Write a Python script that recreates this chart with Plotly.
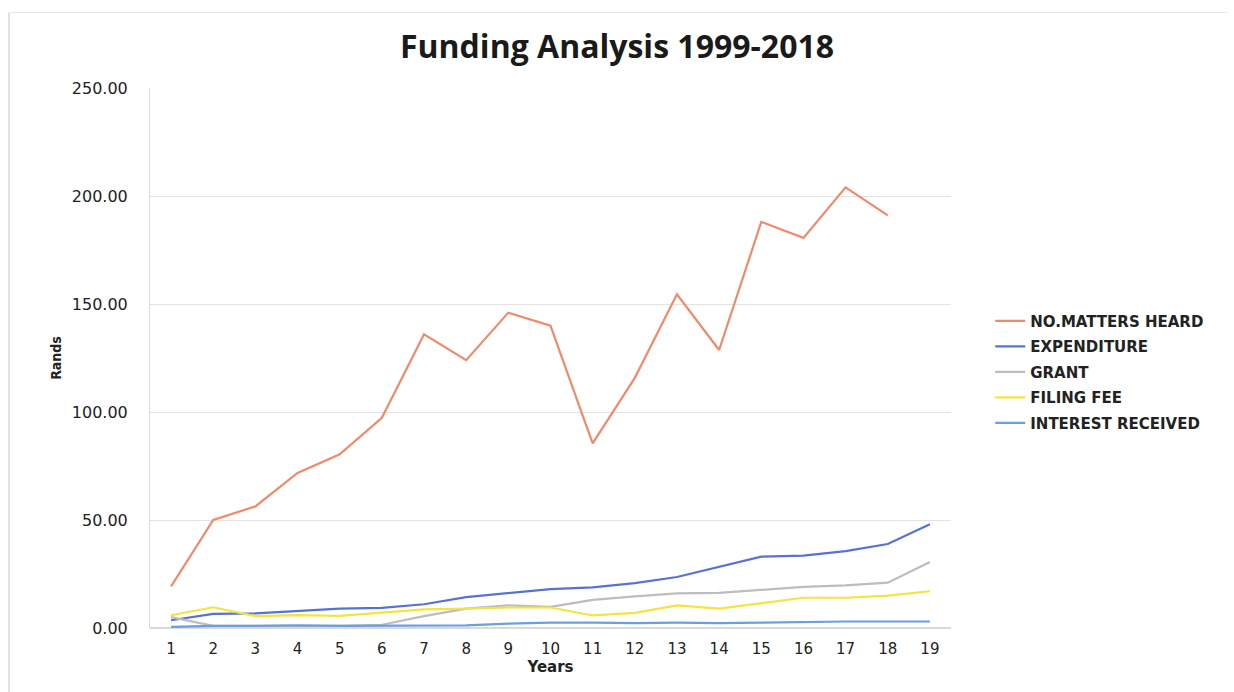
import plotly.graph_objects as go

years = [str(i) for i in range(1, 20)]
matters_heard = [19.3, 50.0, 56.3, 71.8, 80.4, 97.3, 136.0, 124.0, 146.0, 140.0,
                 85.5, 115.8, 154.5, 128.7, 188.0, 180.6, 204.0, 191.0, None]
expenditure = [3.6, 6.5, 6.8, 8.0, 9.0, 9.3, 11.0, 14.3, 16.0, 18.0,
               18.8, 20.8, 23.6, 28.3, 33.0, 33.5, 35.6, 38.9, 48.0]
grant = [5.0, 1.0, 1.0, 1.0, 1.0, 1.5, 5.5, 9.0, 10.5, 9.8,
         13.0, 14.6, 16.0, 16.3, 17.8, 19.0, 19.7, 21.0, 30.6]
filing_fee = [5.9, 9.6, 5.5, 6.0, 5.6, 7.0, 8.6, 9.0, 9.5, 9.5,
              5.8, 7.0, 10.5, 9.0, 11.5, 14.0, 14.0, 15.0, 17.0]
interest = [0.5, 1.0, 1.0, 1.2, 1.0, 1.0, 1.0, 1.2, 2.0, 2.5,
            2.5, 2.3, 2.5, 2.3, 2.5, 2.8, 3.0, 3.0, 3.0]

series = [
    ("NO.MATTERS HEARD", matters_heard, "#EF8A6B"),
    ("EXPENDITURE", expenditure, "#5672D2"),
    ("GRANT", grant, "#BDBDBD"),
    ("FILING FEE", filing_fee, "#F3E43E"),
    ("INTEREST RECEIVED", interest, "#6B9FE0"),
]

fig = go.Figure()
for i, (name, vals, col) in enumerate(series):
    fig.add_trace(go.Scatter(x=years, y=vals, name=f"<b>{name}</b>", mode="lines",
                             line=dict(color=col, width=2.2),
                             legendgroup=f"g{i}"))

fig.update_layout(
    width=1234, height=692,
    paper_bgcolor="white", plot_bgcolor="white",
    margin=dict(l=150, r=283, t=88, b=64),
    title=dict(text="<b>Funding Analysis 1999-2018</b>", x=0.5, xanchor="center",
               y=0.932, yanchor="middle",
               font=dict(family="Open Sans", size=32, color="#1a1a1a")),
    font=dict(family="DejaVu Sans", color="#222222"),
    legend=dict(x=1.049, y=0.474, xanchor="left", yanchor="middle",
                traceorder="grouped", tracegroupgap=3,
                font=dict(family="DejaVu Sans", size=15, color="#222222"),
                itemwidth=30, bgcolor="rgba(0,0,0,0)"),
    xaxis=dict(type="category", range=[-0.5, 18.5], showgrid=False, showline=False,
               ticks="", ticklabelstandoff=10,
               tickfont=dict(family="DejaVu Sans", size=15, color="#222222"),
               title=dict(text="<b>Years</b>", font=dict(family="DejaVu Sans", size=15),
                          standoff=2)),
    yaxis=dict(range=[0, 250], dtick=50, tickformat=".2f",
               showgrid=True, gridcolor="#e3e3e3", gridwidth=1,
               showline=True, linecolor="#d9d9d9", linewidth=1,
               zeroline=True, zerolinecolor="#d9d9d9",
               ticks="", ticklabelstandoff=18,
               tickfont=dict(family="DejaVu Sans", size=16, color="#222222"),
               title=dict(text="<b>Rands</b>",
                          font=dict(family="Liberation Sans Narrow, DejaVu Sans Condensed", size=14),
                          standoff=6)),
)

# scanned page frame
fig.add_shape(type="line", xref="paper", yref="paper", x0=-0.176, x1=-0.176,
              y0=-0.12, y1=1.14, line=dict(color="#d6d6d6", width=1.5))
fig.add_shape(type="line", xref="paper", yref="paper", x0=-0.176, x1=1.345,
              y0=1.14, y1=1.14, line=dict(color="#e6e6e6", width=1))

fig.write_html("out.html")
